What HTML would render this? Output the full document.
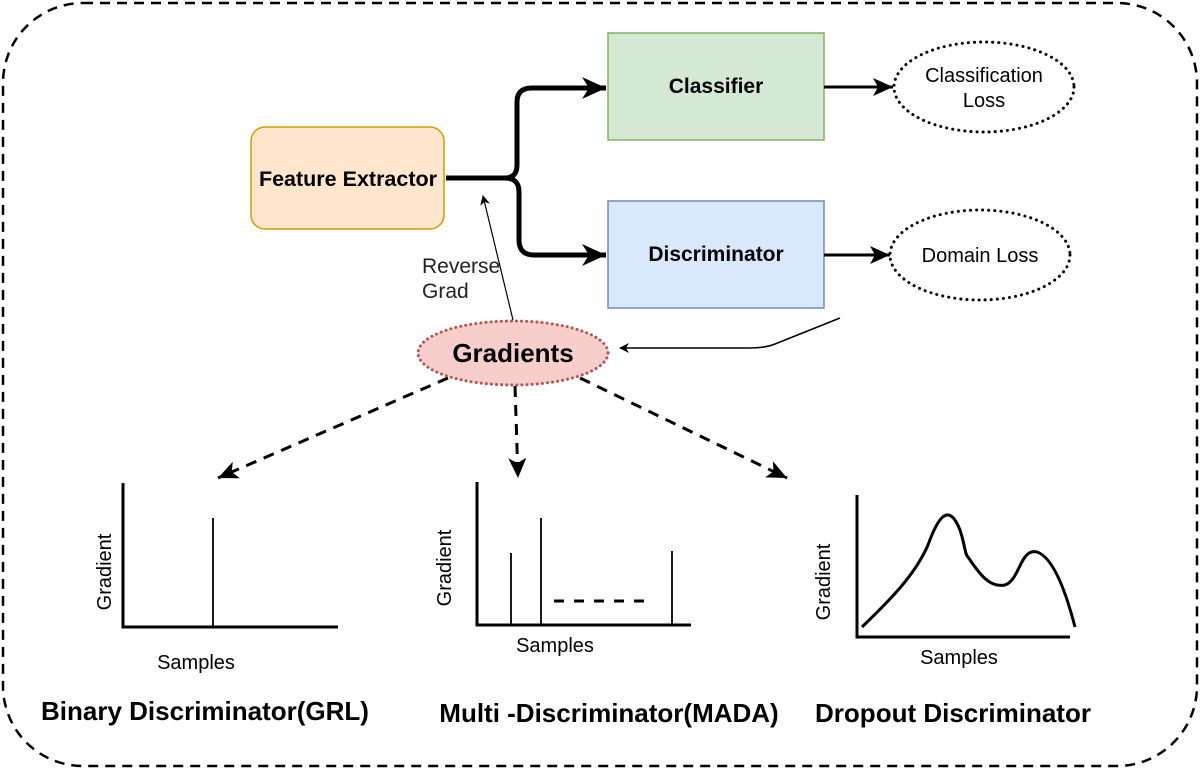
<!DOCTYPE html>
<html><head><meta charset="utf-8"><style>
body{margin:0;background:#fff}
svg{display:block}
text{font-family:"Liberation Sans",Arial,sans-serif}
</style></head><body>
<svg width="1200" height="769" viewBox="0 0 1200 769" xmlns="http://www.w3.org/2000/svg">
<defs>
<marker id="a" markerWidth="10" markerHeight="10" refX="9" refY="5" orient="auto" markerUnits="userSpaceOnUse"><path d="M0,0 L10,5 L0,10 L3,5z" fill="#000"/></marker>
<marker id="ab" markerWidth="26" markerHeight="22" refX="24" refY="11" orient="auto" markerUnits="userSpaceOnUse"><path d="M0,0 L24,11 L0,22 L7,11z" fill="#000"/></marker>
<marker id="am" markerWidth="22" markerHeight="18" refX="20" refY="9" orient="auto" markerUnits="userSpaceOnUse"><path d="M0,0 L20,9 L0,18 L5,9z" fill="#000"/></marker>
</defs>
<rect x="3" y="3" width="1194" height="763" rx="80" fill="none" stroke="#000" stroke-width="2.5" stroke-dasharray="10,7"/>
<rect x="251" y="127" width="193" height="102" rx="14" fill="#ffe6cc" stroke="#d79b00" stroke-width="1.5"/>
<text x="348" y="186" text-anchor="middle" font-size="21.5" font-weight="bold">Feature Extractor</text>
<rect x="608" y="33" width="216" height="107" fill="#d5e8d4" stroke="#82b366" stroke-width="1.5"/>
<text x="716" y="93" text-anchor="middle" font-size="21" font-weight="bold">Classifier</text>
<rect x="608" y="201" width="216" height="107" fill="#dae8fc" stroke="#6c8ebf" stroke-width="1.5"/>
<text x="716" y="261" text-anchor="middle" font-size="21" font-weight="bold">Discriminator</text>
<path d="M446,178 L505,178 Q517,178 517,165 L517,102 Q517,88 532,88 L606,88" fill="none" stroke="#000" stroke-width="5" marker-end="url(#ab)"/>
<path d="M505,178 Q519,178 519,192 L519,240 Q519,255 534,255 L606,255" fill="none" stroke="#000" stroke-width="5" marker-end="url(#ab)"/>
<line x1="824" y1="87" x2="893" y2="87" stroke="#000" stroke-width="3" marker-end="url(#am)"/>
<line x1="824" y1="255" x2="890" y2="255" stroke="#000" stroke-width="3" marker-end="url(#am)"/>
<ellipse cx="984" cy="87" rx="90" ry="45" fill="#fff" stroke="#000" stroke-width="3" stroke-dasharray="0.1,6" stroke-linecap="round"/>
<text x="984" y="82" text-anchor="middle" font-size="20">Classification</text>
<text x="984" y="107" text-anchor="middle" font-size="20">Loss</text>
<ellipse cx="980" cy="255" rx="90" ry="45" fill="#fff" stroke="#000" stroke-width="3" stroke-dasharray="0.1,6" stroke-linecap="round"/>
<text x="980" y="262" text-anchor="middle" font-size="20">Domain Loss</text>
<path d="M840,318 L775,344 Q765,348 750,348 L620,348" fill="none" stroke="#000" stroke-width="1.5" marker-end="url(#a)"/>
<line x1="513" y1="320" x2="483" y2="196" stroke="#000" stroke-width="1.2" marker-end="url(#a)"/>
<text x="422" y="273" font-size="21" fill="#222">Reverse</text>
<text x="422" y="298" font-size="21" fill="#222">Grad</text>
<ellipse cx="513" cy="353" rx="95" ry="32" fill="#f8cecc" stroke="#b85450" stroke-width="3" stroke-dasharray="0.1,5" stroke-linecap="round"/>
<text x="513" y="362" text-anchor="middle" font-size="26" font-weight="bold">Gradients</text>
<line x1="448" y1="378" x2="218" y2="478" stroke="#000" stroke-width="3" stroke-dasharray="11,8" marker-end="url(#am)"/>
<line x1="515" y1="386" x2="518" y2="478" stroke="#000" stroke-width="3" stroke-dasharray="11,8" marker-end="url(#am)"/>
<line x1="580" y1="378" x2="787" y2="478" stroke="#000" stroke-width="3" stroke-dasharray="11,8" marker-end="url(#am)"/>
<path d="M123,483 L123,627 L338,627" fill="none" stroke="#000" stroke-width="3"/>
<line x1="213" y1="518" x2="213" y2="627" stroke="#000" stroke-width="1.8"/>
<text transform="translate(111,572) rotate(-90)" text-anchor="middle" font-size="20">Gradient</text>
<text x="196" y="669" text-anchor="middle" font-size="20">Samples</text>
<path d="M477,482 L477,625 L691,625" fill="none" stroke="#000" stroke-width="3"/>
<line x1="511" y1="553" x2="511" y2="625" stroke="#000" stroke-width="1.8"/>
<line x1="541" y1="518" x2="541" y2="625" stroke="#000" stroke-width="1.8"/>
<line x1="672" y1="551" x2="672" y2="625" stroke="#000" stroke-width="1.8"/>
<line x1="554" y1="601" x2="651" y2="601" stroke="#000" stroke-width="3" stroke-dasharray="10,10"/>
<text transform="translate(451,568) rotate(-90)" text-anchor="middle" font-size="20">Gradient</text>
<text x="555" y="652" text-anchor="middle" font-size="20">Samples</text>
<path d="M857,495 L857,637 L1070,637" fill="none" stroke="#000" stroke-width="3"/>
<path d="M862,627 C890,600 915,575 928,545 C937,520 948,500 960,530 C965,545 965,555 968,557 C980,575 990,588 1005,585 C1020,580 1020,548 1037,552 C1055,558 1068,600 1075,627" fill="none" stroke="#000" stroke-width="3"/>
<text transform="translate(830,582) rotate(-90)" text-anchor="middle" font-size="20">Gradient</text>
<text x="959" y="664" text-anchor="middle" font-size="20">Samples</text>
<text x="205" y="720" text-anchor="middle" font-size="26" font-weight="bold">Binary Discriminator(GRL)</text>
<text x="609" y="722" text-anchor="middle" font-size="26" font-weight="bold">Multi -Discriminator(MADA)</text>
<text x="953" y="722" text-anchor="middle" font-size="26" font-weight="bold">Dropout Discriminator</text>
</svg>
</body></html>
